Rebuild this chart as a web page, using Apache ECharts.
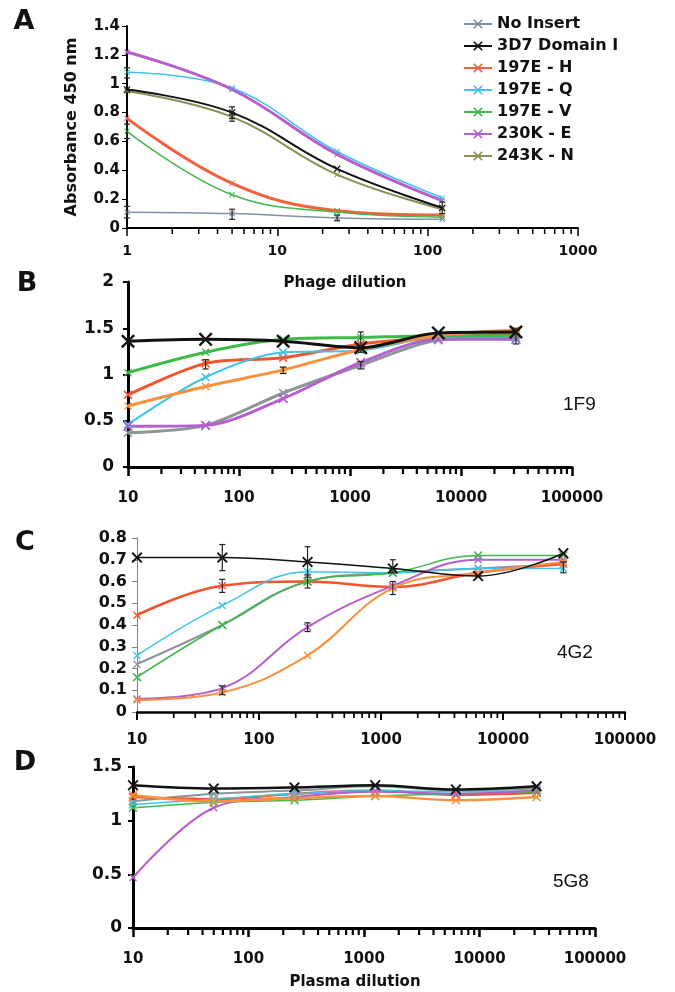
<!DOCTYPE html>
<html><head><meta charset="utf-8">
<script src="https://cdn.jsdelivr.net/npm/echarts@6/dist/echarts.min.js"></script>
<style>html,body{margin:0;padding:0;background:#fff}#c{width:675px;height:992px}</style>
</head><body><div id="c"></div>
<script>
// ---------------- data ----------------
const seriesNames = ['No Insert','3D7 Domain I','197E - H','197E - Q','197E - V','230K - E','243K - N'];
const phageDilution = [1,5,25,125];
const plasmaDilution = [10,50,250,1250,6250,31250];

// Panel A (phage dilution)
const A_noInsert = [0.11,0.10,0.07,0.06];
const A_3d7      = [0.96,0.80,0.41,0.14];
const A_197H     = [0.76,0.31,0.12,0.09];
const A_197Q     = [1.08,0.97,0.53,0.21];
const A_197V     = [0.67,0.23,0.11,0.075];
const A_230E     = [1.22,0.96,0.51,0.19];
const A_243N     = [0.95,0.77,0.37,0.13];
const A_errors   = [[1,0.07,0.15],[5,0.06,0.13],[25,0.05,0.09],[5,0.76,0.84],[5,0.74,0.80],[1,0.62,0.72],[1,1.04,1.11],[125,0.10,0.18]];

// Panel B (1F9)
const B_noInsert = [0.37,0.45,0.80,1.10,1.37,1.40];
const B_3d7      = [1.36,1.38,1.36,1.29,1.45,1.46];
const B_197H     = [0.78,1.12,1.18,1.33,1.40,1.44];
const B_197Q     = [0.46,0.97,1.24,1.26,1.40,1.40];
const B_197V     = [1.02,1.24,1.38,1.40,1.42,1.42];
const B_230E     = [0.44,0.45,0.74,1.13,1.38,1.38];
const B_243N     = [0.66,0.87,1.05,1.27,1.42,1.48];
const B_errors   = [[1250,1.24,1.46],[50,1.06,1.16],[250,1.01,1.08],[31250,1.33,1.50],[1250,1.06,1.14]];

// Panel C (4G2)
const C_noInsert = [0.22,0.40,0.60,0.64,0.66,0.68];
const C_3d7      = [0.71,0.71,0.69,0.66,0.625,0.73];
const C_197H     = [0.445,0.58,0.60,0.575,0.64,0.68];
const C_197Q     = [0.26,0.49,0.645,0.64,0.66,0.66];
const C_197V     = [0.16,0.40,0.60,0.64,0.72,0.72];
const C_230E     = [0.06,0.11,0.39,0.58,0.70,0.70];
const C_243N     = [0.055,0.09,0.26,0.57,0.64,0.69];
const C_errors   = [[50,0.65,0.77],[250,0.62,0.76],[50,0.55,0.61],[250,0.57,0.63],[250,0.37,0.41],[1250,0.64,0.70],[1250,0.54,0.60],[31250,0.64,0.69],[50,0.08,0.12]];

// Panel D (5G8)
const D_noInsert = [1.18,1.25,1.28,1.32,1.28,1.30];
const D_3d7      = [1.33,1.30,1.31,1.33,1.29,1.32];
const D_197H     = [1.22,1.20,1.25,1.28,1.24,1.26];
const D_197Q     = [1.15,1.20,1.25,1.28,1.27,1.28];
const D_197V     = [1.12,1.17,1.19,1.23,1.25,1.27];
const D_230E     = [0.47,1.12,1.22,1.27,1.25,1.28];
const D_243N     = [1.24,1.18,1.21,1.23,1.19,1.22];
const D_errors   = [];

// ---------------- styling ----------------
const BOLD = 'DejaVu Sans';
const colorsA = ['#7d93a3','#111111','#f2603c','#40c4ec','#3dba4a','#b45fcc','#8e8f52'];
const colorsBCD = ['#8c9699','#111111','#f2552e','#40c4ec','#3dba4a','#b45fcc','#f7913d'];
const xSym = 'path://M0,1.2L1.2,0L5,3.8L8.8,0L10,1.2L6.2,5L10,8.8L8.8,10L5,6.2L1.2,10L0,8.8L3.8,5Z';

const panels = [
  {grid:{left:127,top:26,width:451,height:202}, xMin:1,xMax:1000,yMin:0,yMax:1.4,yInt:0.2,
   xs:phageDilution, data:[A_noInsert,A_3d7,A_197H,A_197Q,A_197V,A_230E,A_243N], err:A_errors,
   colors:colorsA, lw:[1.5,2,3,1.5,1.5,3,2], sym:[6,7,6,6,6,6,6], axisW:2, yColor:'#000', yW:2,
   yFont:15, xFont:14, xMargin:16, yMargin:7, tick:6, smooth:0.4},
  {grid:{left:128,top:282,width:444,height:185}, xMin:10,xMax:100000,yMin:0,yMax:2,yInt:0.5,
   xs:plasmaDilution, data:[B_noInsert,B_3d7,B_197H,B_197Q,B_197V,B_230E,B_243N], err:B_errors,
   colors:colorsBCD, lw:[3,3,3,2,3,3,3], sym:[9,14,9,9,8,10,8], axisW:3, yColor:'#000', yW:3,
   yFont:17, xFont:15, xMargin:24, yMargin:14, tick:7, smooth:0.3},
  {grid:{left:137,top:538,width:488,height:174}, xMin:10,xMax:100000,yMin:0,yMax:0.8,yInt:0.1,
   xs:plasmaDilution, data:[C_noInsert,C_3d7,C_197H,C_197Q,C_197V,C_230E,C_243N], err:C_errors,
   colors:colorsBCD, lw:[2,1.5,2.5,1.5,1.5,2,2], sym:[8,11,8,8,9,8,8], axisW:2.5, yColor:'#6f8599', yW:1,
   yFont:16, xFont:15, xMargin:21, yMargin:10, tick:6, smooth:0.4},
  {grid:{left:133,top:767,width:462,height:161}, xMin:10,xMax:100000,yMin:0,yMax:1.5,yInt:0.5,
   xs:plasmaDilution, data:[D_noInsert,D_3d7,D_197H,D_197Q,D_197V,D_230E,D_243N], err:D_errors,
   colors:colorsBCD, lw:[2,2.5,2.5,1.5,1.5,2,2.5], sym:[9,11,9,9,9,8,9], axisW:3, yColor:'#000', yW:3,
   yFont:17, xFont:15, xMargin:24, yMargin:11, tick:7, smooth:0.35}
];

const grids=[], xAxes=[], yAxes=[], series=[];
panels.forEach((p,pi)=>{
  grids.push(Object.assign({}, p.grid));
  xAxes.push({
    type:'log', logBase:10, gridIndex:pi, min:p.xMin, max:p.xMax,
    axisLine:{show:true,onZero:false,lineStyle:{color:'#000',width:p.axisW}},
    axisTick:{show:true,inside:false,length:p.tick+2,lineStyle:{color:'#000',width:Math.max(1.5,p.axisW-0.5)}},
    axisLabel:{formatter:v=>String(Math.round(v)),fontFamily:BOLD,fontWeight:'bold',fontSize:p.xFont,color:'#111',margin:p.xMargin},
    splitLine:{show:false}, minorTick:{show:false}
  });
  const ya = {
    type:'value', gridIndex:pi, min:p.yMin, max:p.yMax, interval:p.yInt,
    axisLine:{show:true,onZero:false,lineStyle:{color:p.yColor,width:p.yW}},
    axisTick:{show:true,inside:false,length:5,lineStyle:{color:p.yColor,width:Math.max(1,p.yW-1)}},
    axisLabel:{fontFamily:BOLD,fontWeight:'bold',fontSize:p.yFont,color:'#111',margin:p.yMargin},
    splitLine:{show:false}
  };
  if(pi===0){
    Object.assign(ya,{name:'Absorbance 450 nm',nameLocation:'middle',nameGap:47,nameRotate:90,
      nameTextStyle:{fontFamily:BOLD,fontWeight:'bold',fontSize:16,color:'#111'}});
  }
  yAxes.push(ya);

  // minor ticks (2..9 within each decade)
  const minor=[];
  for(let d=p.xMin; d<p.xMax; d*=10){ for(let k=2;k<=9;k++) minor.push([k*d,p.yMin]); }
  series.push({
    type:'custom', xAxisIndex:pi, yAxisIndex:pi, silent:true, clip:false, z:1,
    data:minor,
    renderItem:(params,api)=>{
      const c=api.coord([api.value(0),api.value(1)]);
      return {type:'line',shape:{x1:c[0],y1:c[1],x2:c[0],y2:c[1]+p.tick},style:{stroke:'#000',lineWidth:Math.max(1.5,p.axisW-0.8)}};
    }
  });

  // data series
  p.data.forEach((vals,si)=>{
    series.push({
      name:seriesNames[si], type:'line', xAxisIndex:pi, yAxisIndex:pi,
      data:p.xs.map((x,i)=>[x,vals[i]]),
      smooth:p.smooth, symbol:xSym, symbolSize:p.sym[si], showSymbol:true,
      lineStyle:{color:p.colors[si],width:p.lw[si]},
      itemStyle:{color:p.colors[si]},
      z: si===1 ? 4 : 3, animation:false
    });
  });

  // error bars
  if(p.err.length){
    series.push({
      type:'custom', xAxisIndex:pi, yAxisIndex:pi, silent:true, z:5,
      data:p.err,
      renderItem:(params,api)=>{
        const lo=api.coord([api.value(0),api.value(1)]);
        const hi=api.coord([api.value(0),api.value(2)]);
        const st={stroke:'#222',lineWidth:1.2};
        return {type:'group',children:[
          {type:'line',shape:{x1:lo[0],y1:lo[1],x2:hi[0],y2:hi[1]},style:st},
          {type:'line',shape:{x1:lo[0]-3,y1:lo[1],x2:lo[0]+3,y2:lo[1]},style:st},
          {type:'line',shape:{x1:hi[0]-3,y1:hi[1],x2:hi[0]+3,y2:hi[1]},style:st}
        ]};
      }
    });
  }
});

const txt=(text,x,y,size,weight,align)=>({type:'text',x:x,y:y,silent:true,
  style:{text:text,fontFamily:weight==='bold'?BOLD:'Liberation Sans',fontWeight:weight,fontSize:size,fill:'#111',
  textAlign:align||'center',textVerticalAlign:'middle'}});

const option = {
  backgroundColor:'#ffffff',
  animation:false,
  grid:grids, xAxis:xAxes, yAxis:yAxes, series:series,
  legend:{
    data:seriesNames, orient:'vertical', left:458, top:11, itemWidth:28, itemHeight:12, itemGap:6,
    textStyle:{fontFamily:BOLD,fontWeight:'bold',fontSize:16,color:'#111'}, selectedMode:false
  },
  graphic:[
    txt('A',24,22,27,'bold'), txt('B',27,284,27,'bold'), txt('C',25,543,27,'bold'), txt('D',25,763,27,'bold'),
    txt('Phage dilution',345,283,15,'bold'),
    txt('Plasma dilution',355,982,15,'bold'),
    txt('1F9',563,405,19,'normal','left'),
    txt('4G2',557,653,19,'normal','left'),
    txt('5G8',553,882,19,'normal','left')
  ]
};
const chart = echarts.init(document.getElementById('c'));
chart.setOption(option);
</script>
</body></html>
